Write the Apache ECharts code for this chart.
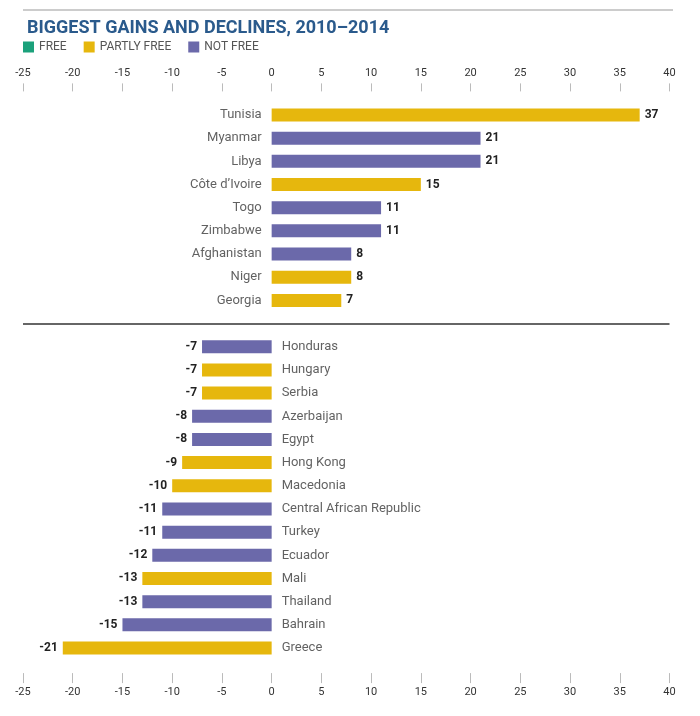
<!DOCTYPE html>
<html><head><meta charset="utf-8">
<script src="https://cdn.jsdelivr.net/npm/echarts@6/dist/echarts.min.js"></script>
<style>html,body{margin:0;padding:0;background:#fff}#c{width:700px;height:716px}</style>
</head><body><div id="c"></div>
<script>
const categories = ['Tunisia','Myanmar','Libya','Côte d’Ivoire','Togo','Zimbabwe','Afghanistan','Niger','Georgia','',
  'Honduras','Hungary','Serbia','Azerbaijan','Egypt','Hong Kong','Macedonia','Central African Republic','Turkey','Ecuador','Mali','Thailand','Bahrain','Greece'];
const values = [37,21,21,15,11,11,8,8,7,null,
  -7,-7,-7,-8,-8,-9,-10,-11,-11,-12,-13,-13,-15,-21];
const status = ['PARTLY FREE','NOT FREE','NOT FREE','PARTLY FREE','NOT FREE','NOT FREE','NOT FREE','PARTLY FREE','PARTLY FREE',null,
  'NOT FREE','PARTLY FREE','PARTLY FREE','NOT FREE','NOT FREE','PARTLY FREE','PARTLY FREE','NOT FREE','NOT FREE','NOT FREE','PARTLY FREE','NOT FREE','NOT FREE','PARTLY FREE'];
const groups = ['FREE','PARTLY FREE','NOT FREE'];
const axisMin = -25, axisMax = 40, axisStep = 5;
const separatorIndex = 9;

const colors = {'FREE':'#1BA17B','PARTLY FREE':'#E6B70D','NOT FREE':'#6B69AA'};
const FONT = 'Roboto';

const series = groups.map((g, gi) => ({
  name: g, type: 'bar', stack: 's', barWidth: 13, xAxisIndex: 0, yAxisIndex: 0,
  itemStyle: {color: colors[g]},
  label: {show: true, fontWeight: 'bold', fontSize: 12, color: '#222', fontFamily: FONT, distance: 5,
    formatter: p => p.value},
  data: values.map((v, i) => status[i] === g ? {value: v, label: {position: v >= 0 ? 'right' : 'left'}} : '-'),
  markLine: gi === 0 ? {
    silent: true, symbol: 'none', label: {show: false},
    lineStyle: {color: '#333', width: 1.5, type: 'solid'},
    data: [{yAxis: separatorIndex}]
  } : undefined
}));

// country names anchored at the zero baseline
series.push({
  name: 'names', type: 'scatter', symbolSize: 0, silent: true, xAxisIndex: 0, yAxisIndex: 0,
  label: {show: true, fontSize: 13, color: '#3a3a3a', fontFamily: FONT, distance: 10,
    formatter: p => categories[p.dataIndex]},
  data: categories.map((c, i) => ({value: [0, i], label: {position: (values[i] === null || values[i] >= 0) ? 'left' : 'right'}}))
});

const valueAxis = (pos, offset, tickLen, margin) => ({
  type: 'value', position: pos, min: axisMin, max: axisMax, interval: axisStep, offset: offset,
  axisLine: {show: false, onZero: false},
  axisTick: {show: true, length: tickLen, lineStyle: {color: '#bbb', width: 1}},
  axisLabel: {margin: margin, fontSize: 11, color: '#333', fontFamily: FONT},
  splitLine: {show: false}
});

const chart = echarts.init(document.getElementById('c'), null, {renderer: 'canvas'});
chart.setOption({
  animation: false,
  backgroundColor: '#fff',
  title: {text: 'BIGGEST GAINS AND DECLINES, 2010–2014', left: 22, top: 14,
    textStyle: {fontFamily: FONT, fontWeight: 'bold', fontSize: 18, color: '#2A5A8C'}},
  legend: {left: 23, top: 41, padding: 0, itemWidth: 11, itemHeight: 11, itemGap: 17, icon: 'rect',
    data: groups,
    textStyle: {fontFamily: FONT, fontSize: 12, color: '#555'}},
  graphic: [{type: 'line', shape: {x1: 23, y1: 10, x2: 673, y2: 10}, style: {stroke: '#999', lineWidth: 1}}],
  grid: {left: 23, right: 30.5, top: 103.4, bottom: 56.4, containLabel: false, outerBoundsMode: 'none'},
  xAxis: [valueAxis('top', 12, 8, 13), valueAxis('bottom', 13.5, 10, 14)],
  yAxis: {type: 'category', inverse: true, data: categories, show: false},
  series: series
});
</script></body></html>
